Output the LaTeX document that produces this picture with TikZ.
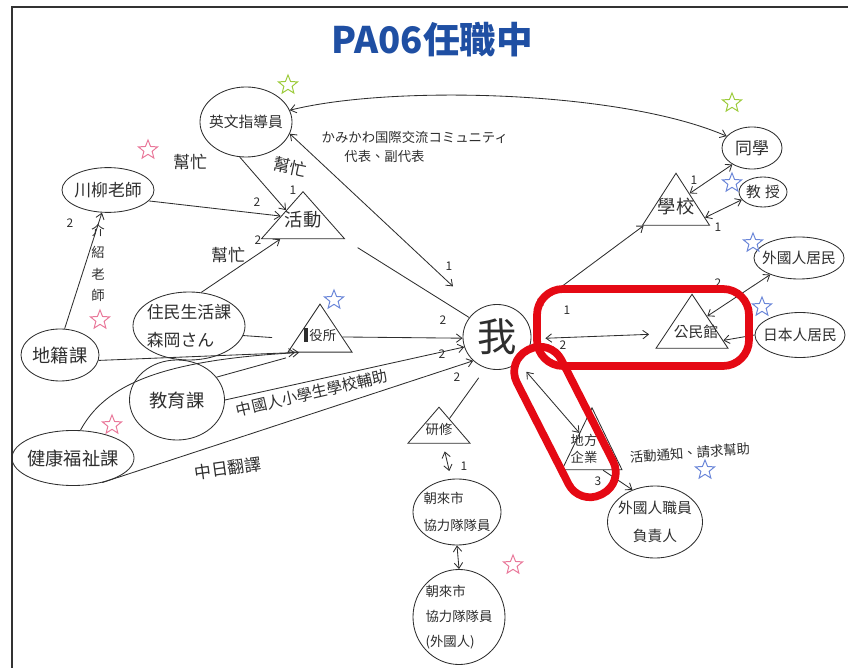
\documentclass[tikz,border=0pt]{standalone}
\usepackage{fontspec}
\setmainfont{Noto Sans CJK TC}
\usetikzlibrary{shapes.geometric,arrows.meta,positioning}
\definecolor{titleblue}{HTML}{1F4FA3}
\definecolor{markred}{HTML}{E50914}
\definecolor{stargreen}{HTML}{9CCB3B}
\definecolor{starpink}{HTML}{E9789A}
\definecolor{starblue}{HTML}{6A86D8}
\definecolor{pencil}{HTML}{2E2E2E}
\tikzset{
  blob/.style={ellipse,draw=pencil,line width=0.6pt,inner sep=0pt},
  tri/.style={isosceles triangle,isosceles triangle stretches,shape border rotate=90,
    draw=pencil,line width=0.6pt,inner sep=0pt},
  hstar/.style={star,star points=5,star point ratio=2.3,draw=#1,line width=0.7pt,
    minimum size=0.5cm,inner sep=0pt},
  myarrow/.style={-{Straight Barb[length=4pt,width=6pt]},line width=0.6pt,draw=pencil},
  biarrow/.style={{Straight Barb[length=4pt,width=6pt]}-{Straight Barb[length=4pt,width=6pt]},
    line width=0.6pt,draw=pencil},
  plainline/.style={line width=0.6pt,draw=pencil},
  arrlabel/.style={font=\fontsize{8.5}{10}\selectfont,text=pencil,inner sep=1pt},
  txtS/.style={font=\fontsize{9.5}{14}\selectfont,text=pencil,inner sep=1pt},
  txtM/.style={font=\fontsize{10.5}{20}\selectfont,text=pencil,inner sep=1pt},
  txtL/.style={font=\fontsize{12}{20}\selectfont,text=pencil,inner sep=1pt},
  txtXL/.style={font=\fontsize{13}{18}\selectfont,text=pencil,inner sep=1pt},
  highlight/.style={draw=markred,line width=5.5pt},
}
\begin{document}
\begin{tikzpicture}[x=0.025cm,y=-0.025cm]
  \useasboundingbox (0,0) rectangle (848,668);
  \draw[line width=1.4pt,draw=black!80] (12,668) -- (12,7) -- (848,7);
  \node[font=\fontsize{26}{30}\selectfont\bfseries,text=titleblue] (title) at (432,40) {PA06任職中};

  % people and offices
  \node[blob,minimum width=2.3cm,minimum height=1.75cm,label={[txtM]center:英文指導員}] (eng) at (246,122) {};
  \node[blob,minimum width=1.5cm,minimum height=1.05cm,label={[txtL]center:同學}] (tongxue) at (752,148) {};
  \node[blob,minimum width=1.2cm,minimum height=0.75cm,label={[txtM]center:教\hspace{3pt}授}] (prof) at (763,192) {};
  \node[blob,minimum width=2.25cm,minimum height=1.05cm,label={[txtM]center:外國人居民}] (foreign) at (799,258) {};
  \node[blob,minimum width=2.25cm,minimum height=1.125cm,label={[txtM]center:日本人居民}] (jpres) at (800,335) {};
  \node[blob,minimum width=1.7cm,minimum height=1.625cm,font=\fontsize{28}{30}\selectfont,text=pencil] (me) at (497,337) {我};
  \node[blob,minimum width=2.375cm,minimum height=1.8cm,label={[txtM,align=center]center:外國人職員\\負責人}] (staff) at (655,522) {};
  \node[blob,minimum width=2.2cm,minimum height=1.65cm,label={[txtS,align=left,font=\fontsize{9.5}{19}\selectfont]center:朝來市\\協力隊隊員}] (chaolai1) at (457,512) {};
  \node[blob,minimum width=2.3cm,minimum height=2.375cm,label={[txtS,align=left,font=\fontsize{9.5}{18}\selectfont]center:朝來市\\協力隊隊員\\(外國人)}] (chaolai2) at (459,617) {};
  \node[blob,minimum width=2.3cm,minimum height=1.12cm,label={[txtL]center:川柳老師}] (chuanliu) at (108,190) {};
  \node[blob,minimum width=1.95cm,minimum height=1.3cm,label={[txtXL]center:地籍課}] (diji) at (60,355) {};
  \node[blob,minimum width=2.8cm,minimum height=1.7cm,label={[txtL,align=left]center:住民生活課\\森岡さん}] (zhumin) at (189,326) {};
  \node[blob,minimum width=2.375cm,minimum height=2cm,label={[txtXL]center:教育課}] (jiaoyu) at (177,400) {};
  \node[blob,minimum width=3.05cm,minimum height=1.375cm,label={[txtXL]center:健康福祉課}] (health) at (73,458) {};

  % places
  \node[tri,minimum width=2.075cm,minimum height=1.175cm,label={[txtXL]center:活動}] (huodong) at (303,220) {};
  \node[tri,minimum width=1.6cm,minimum height=1.2cm,label={[txtS]center:{\rule[-1pt]{3pt}{10pt}\hspace{1pt}役所}}] (yisuo) at (320,335) {};
  \node[tri,minimum width=1.55cm,minimum height=0.9cm,label={[txtS]center:研修}] (yanxiu) at (439,429) {};
  \node[tri,minimum width=1.675cm,minimum height=1.3cm,label={[txtXL]center:學校}] (xuexiao) at (676,207) {};
  \node[tri,minimum width=1.8cm,minimum height=1.35cm,label={[txtM,yshift=-0.08cm,xshift=0.1cm]center:公民館}] (gongmin) at (692,329) {};
  \node[tri,minimum width=1.5cm,minimum height=1.55cm,label={[txtS,align=center,yshift=0.05cm,xshift=-0.2cm,font=\fontsize{9.5}{12}\selectfont]center:地方\\企業}] (qiye) at (592,451) {};

  % stars
  \node[hstar=stargreen] (st1) at (288,85) {};
  \node[hstar=stargreen] (st2) at (732,103) {};
  \node[hstar=starblue] (st3) at (732,183) {};
  \node[hstar=starblue] (st4) at (753,243) {};
  \node[hstar=starblue] (st5) at (762,307) {};
  \node[hstar=starblue] (st6) at (334,300) {};
  \node[hstar=starblue] (st7) at (705,470) {};
  \node[hstar=starpink] (st8) at (148,150) {};
  \node[hstar=starpink] (st9) at (100,320) {};
  \node[hstar=starpink] (st10) at (112,425) {};
  \node[hstar=starpink] (st11) at (513,565) {};

  % links
  \draw[biarrow] (eng.15) .. controls (390,85) and (620,90) .. (tongxue.155);
  \draw[biarrow,shorten >=0.85cm] (eng.-15) -- (me.125);
  \draw[myarrow] (eng.-100) -- (huodong.150);
  \draw[myarrow] (chuanliu.-15) -- (huodong.170);
  \draw[myarrow] (zhumin.70) -- (huodong.220);
  \draw[plainline,shorten <=0.4cm] (huodong.-25) -- (me.145);
  \draw[myarrow] (diji.80) -- (chuanliu.-105);
  \draw[myarrow] (diji.-8) -- (yisuo.215);
  \draw[myarrow] (health.75) .. controls (105,385) and (160,360) .. (yisuo.220);
  \draw[plainline,shorten >=0.6cm] (zhumin.-10) -- (yisuo.190);
  \draw[plainline,shorten >=0.5cm] (jiaoyu.30) -- (yisuo.230);
  \draw[myarrow] (yisuo.-5) -- (me.182);
  \draw[myarrow] (jiaoyu.0) -- (me.197);
  \draw[myarrow] (health.-40) -- (me.225);
  \draw[plainline,shorten <=0.3cm] (me.-110) -- (yanxiu.45);
  \draw[biarrow,shorten <=0.2cm,shorten >=0.2cm] (yanxiu.-75) -- (chaolai1.100);
  \draw[biarrow] (chaolai1.-90) -- (chaolai2.90);
  \draw[biarrow,shorten <=0.4cm] (me.40) -- (xuexiao.210);
  \draw[biarrow,shorten <=0.35cm,shorten >=0.4cm] (me.-3) -- (gongmin.190);
  \draw[biarrow,shorten <=0.3cm] (me.-50) -- (qiye.125);
  \draw[myarrow] (qiye.-60) -- (staff.125);
  \draw[biarrow] (xuexiao.45) -- (tongxue.220);
  \draw[biarrow] (xuexiao.-20) -- (prof.200);
  \draw[biarrow] (gongmin.40) -- (foreign.210);
  \draw[myarrow] (jpres.180) -- (gongmin.-20);

  % link labels
  \node[arrlabel] (n1) at (449,266) {1};
  \node[txtS,anchor=west,align=left] (kawa) at (320,147) {かみかわ国際交流コミュニティ\\\hspace{1.7em}代表、副代表};
  \node[txtL] (help1) at (190,162) {幫忙};
  \node[arrlabel] (n2) at (257,202) {2};
  \node[txtL,rotate=-12] (help2) at (290,167) {幫忙};
  \node[arrlabel] (n3) at (293,190) {1};
  \node[txtL] (help3) at (228,255) {幫忙};
  \node[arrlabel] (n4) at (258,240) {2};
  \node[txtS,align=center,font=\fontsize{9.5}{15.5}\selectfont] (intro) at (98,263) {介\\紹\\老\\師};
  \node[arrlabel] (n5) at (70,223) {2};
  \node[arrlabel] (n6) at (443,320) {2};
  \node[arrlabel] (n7) at (442,354) {2};
  \node[arrlabel] (n8) at (457,377) {2};
  \node[font=\fontsize{11}{13}\selectfont,text=pencil,inner sep=1pt,rotate=13] (cnschool) at (312,393) {中國人小學生學校輔助};
  \node[txtL,rotate=8] (cnjp) at (228,468) {中日翻譯};
  \node[arrlabel] (n9) at (567,310) {1};
  \node[arrlabel] (n10) at (563,345) {2};
  \node[arrlabel] (n11) at (694,180) {1};
  \node[arrlabel] (n12) at (718,227) {1};
  \node[arrlabel] (n13) at (718,283) {2};
  \node[arrlabel] (n14) at (598,481) {3};
  \node[txtS,rotate=4] (notice) at (690,453) {活動通知、請求幫助};
  \node[arrlabel] (n15) at (464,466) {1};

  % red marks
  \draw[highlight,rounded corners=0.65cm] (537,289) rectangle (749,366);
  \node[highlight,rectangle,rounded corners=0.6cm,minimum width=4.05cm,minimum height=1.25cm,rotate=-63] (capsule) at (565,422) {};
\end{tikzpicture}
\end{document}
